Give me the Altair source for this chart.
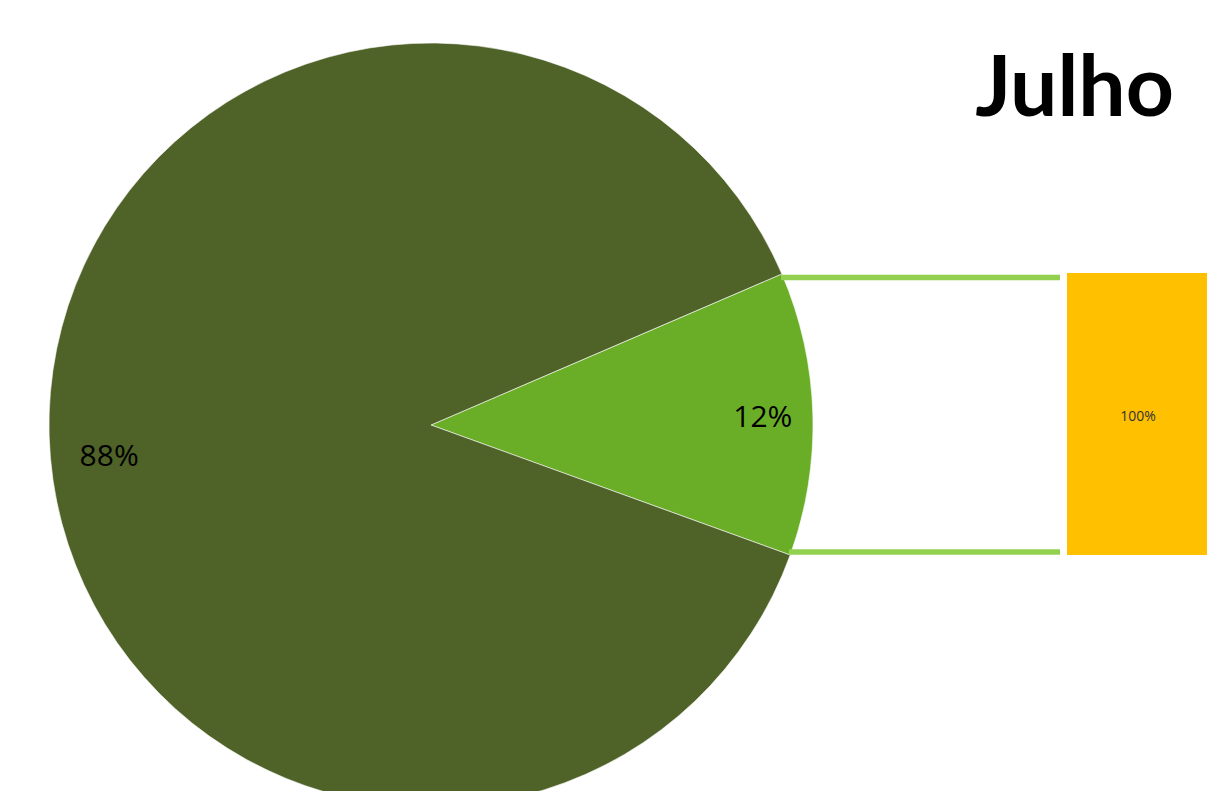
import math
import altair as alt
import pandas as pd

# Data
categories = ["Secundário", "Principal"]
values = [12, 88]
labels = ["12%", "88%"]
colors = ["#6AAD27", "#4F6228"]

bar_categories = ["Detalhe"]
bar_values = [100]
bar_labels = ["100%"]

title_text = "Julho"

pie_df = pd.DataFrame({"cat": categories, "val": values, "label": labels, "ord": [0, 1]})
bar_df = pd.DataFrame({"cat": bar_categories, "val": bar_values, "label": bar_labels, "base": [0]})

start = math.radians(66.7)
theta_scale = alt.Scale(type="linear", domain=[0, 100], range=[start, start + 2 * math.pi])
color_scale = alt.Scale(domain=categories, range=colors)

CX, CY, R = 431, 425, 382
FONT = "Open Sans"

base = alt.Chart(pie_df)

pie = base.mark_arc(radius=R, stroke="#FFFFFF", strokeWidth=0.6).encode(
    theta=alt.Theta("val:Q", stack=True, scale=theta_scale),
    color=alt.Color("cat:N", scale=color_scale, legend=None),
    order=alt.Order("ord:Q"),
    x=alt.value(CX), y=alt.value(CY),
)

def pie_label(cat, radius, dy):
    return base.mark_text(radius=radius, fontSize=30, font=FONT, color="#000000", dy=dy).encode(
        theta=alt.Theta("val:Q", stack=True, scale=theta_scale),
        order=alt.Order("ord:Q"),
        text=alt.Text("label:N"),
        opacity=alt.condition(alt.datum.cat == cat, alt.value(1), alt.value(0)),
        x=alt.value(CX), y=alt.value(CY),
    )

lbl1 = pie_label(categories[0], 332, 3)
lbl2 = pie_label(categories[1], 322, 22)

bar_y = alt.Scale(domain=[0, 100], range=[555, 273])
bar = alt.Chart(bar_df).mark_rect(color="#FFC000").encode(
    y=alt.Y("base:Q", scale=bar_y, axis=None),
    y2="val:Q",
    x=alt.value(1067), x2=alt.value(1260),
)
bar_text = alt.Chart(bar_df).mark_text(fontSize=14, font=FONT, color="#333333", dy=3).encode(
    y=alt.Y("mid:Q", scale=bar_y, axis=None),
    x=alt.value(1138),
    text="label:N",
).transform_calculate(mid="datum.val / 2")

conn_df = pd.DataFrame({"x1": [781, 789], "x2": [1060, 1060], "y": [277.5, 552]})
conn = alt.Chart(conn_df).mark_rule(color="#92D050", strokeWidth=5.5).encode(
    x=alt.X("x1:Q", scale=None), x2="x2:Q", y=alt.Y("y:Q", scale=None)
)

title = alt.Chart(pd.DataFrame({"t": [title_text]})).mark_text(
    fontSize=84, font="Lato", fontWeight="bold", align="right", baseline="alphabetic", color="#000000"
).encode(x=alt.value(1174), y=alt.value(116), text="t:N")

chart = alt.layer(pie, conn, bar, bar_text, lbl1, lbl2, title).properties(
    width=1207, height=791, autosize=alt.AutoSizeParams(type="none"), padding=0
).configure_view(stroke=None).resolve_scale(y="independent", theta="shared")

chart.save("out.html", embed_options={"renderer": "svg", "actions": False})
